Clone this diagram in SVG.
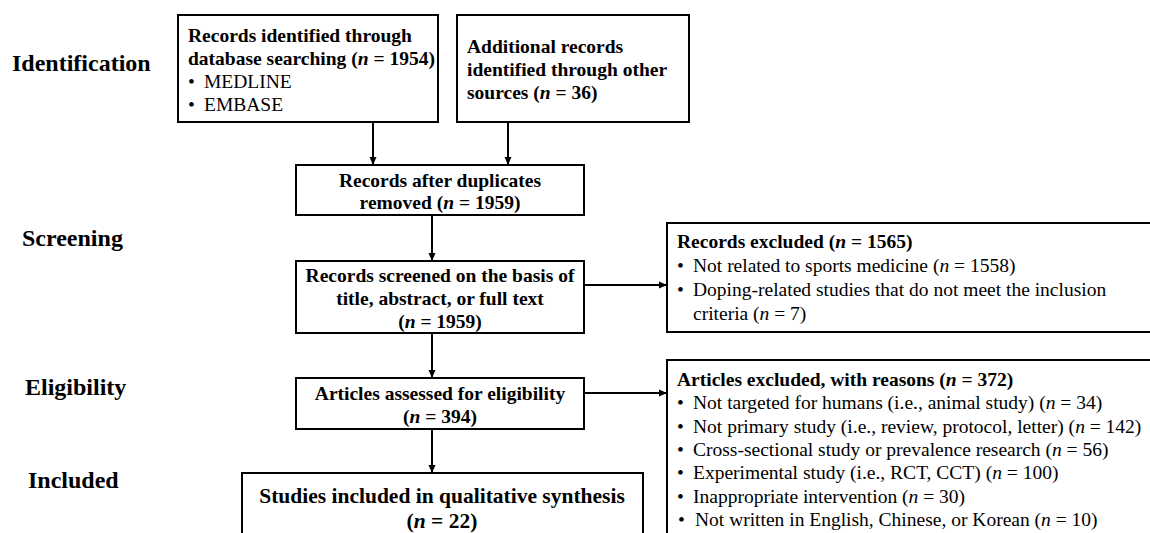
<svg xmlns="http://www.w3.org/2000/svg" width="1150" height="533" viewBox="0 0 1150 533">
  <style>
    .box { fill: #fff; stroke: #000; stroke-width: 2; }
    .t { font-family: "Liberation Serif", "Times New Roman", serif; fill: #000; font-size: 19.5px; }
    .b { font-weight: bold; }
    .stage { font-family: "Liberation Serif", "Times New Roman", serif; font-weight: bold; font-size: 24px; fill: #000; }
    .c { text-anchor: middle; }
    .edge { stroke: #000; stroke-width: 2; fill: none; }
    .i { font-style: italic; }
  </style>
  <defs>
    <marker id="ah" viewBox="0 0 8 8" refX="8" refY="4" markerWidth="8" markerHeight="8" orient="auto" markerUnits="userSpaceOnUse">
      <path d="M0,0.5 L8,4 L0,7.5 Z" fill="#000"/>
    </marker>
  </defs>

  <g id="stages">
    <text class="stage" x="12" y="71">Identification</text>
    <text class="stage" x="22" y="246">Screening</text>
    <text class="stage" x="25" y="395">Eligibility</text>
    <text class="stage" x="28" y="488">Included</text>
  </g>

  <g id="connectors">
    <path class="edge" d="M373,122 V165" marker-end="url(#ah)"/>
    <path class="edge" d="M508,122 V165" marker-end="url(#ah)"/>
    <path class="edge" d="M432,215 V261" marker-end="url(#ah)"/>
    <path class="edge" d="M584,285 H667" marker-end="url(#ah)"/>
    <path class="edge" d="M432,333 V378" marker-end="url(#ah)"/>
    <path class="edge" d="M584,393 H667" marker-end="url(#ah)"/>
    <path class="edge" d="M432,429 V473" marker-end="url(#ah)"/>
  </g>

  <g id="db-search">
    <rect class="box" x="178" y="15" width="260" height="107"/>
    <text class="t b" x="188" y="42">Records identified  through</text>
    <text class="t b" x="188" y="65">database searching (<tspan class="i">n</tspan> = 1954)</text>
    <text class="t" x="188" y="88">•</text>
    <text class="t" x="204" y="88">MEDLINE</text>
    <text class="t" x="188" y="111">•</text>
    <text class="t" x="204" y="111">EMBASE</text>
  </g>

  <g id="other-sources">
    <rect class="box" x="457" y="15" width="232" height="107"/>
    <text class="t b" x="467" y="53">Additional  records</text>
    <text class="t b" x="467" y="76">identified through other</text>
    <text class="t b" x="467" y="99">sources (<tspan class="i">n</tspan> = 36)</text>
  </g>

  <g id="duplicates">
    <rect class="box" x="296" y="165" width="288" height="50"/>
    <text class="t b c" x="440" y="187">Records after duplicates</text>
    <text class="t b c" x="440" y="209">removed (<tspan class="i">n</tspan> = 1959)</text>
  </g>

  <g id="screened">
    <rect class="box" x="296" y="261" width="288" height="72"/>
    <text class="t b c" x="440" y="282">Records screened on the basis of</text>
    <text class="t b c" x="440" y="305">title, abstract, or full text</text>
    <text class="t b c" x="440" y="328">(<tspan class="i">n</tspan> = 1959)</text>
  </g>

  <g id="records-excluded">
    <rect class="box" x="667" y="223" width="495" height="109"/>
    <text class="t b" x="677" y="248">Records excluded  (<tspan class="i">n</tspan> = 1565)</text>
    <text class="t" x="677" y="272">•</text>
    <text class="t" x="693" y="272">Not related  to sports medicine  (<tspan class="i">n</tspan> = 1558)</text>
    <text class="t" x="677" y="296">•</text>
    <text class="t" x="693" y="296">Doping-related  studies that do not meet the inclusion</text>
    <text class="t" x="693" y="320">criteria (<tspan class="i">n</tspan> = 7)</text>
  </g>

  <g id="assessed">
    <rect class="box" x="296" y="378" width="288" height="51"/>
    <text class="t b c" x="440" y="400">Articles assessed for eligibility</text>
    <text class="t b c" x="440" y="423">(<tspan class="i">n</tspan> = 394)</text>
  </g>

  <g id="articles-excluded">
    <rect class="box" x="667" y="360" width="495" height="190"/>
    <text class="t b" x="677" y="386">Articles excluded, with reasons (<tspan class="i">n</tspan> = 372)</text>
    <text class="t" x="677" y="409">•</text>
    <text class="t" x="693" y="409">Not targeted  for humans (i.e., animal study) (<tspan class="i">n</tspan> = 34)</text>
    <text class="t" x="677" y="433">•</text>
    <text class="t" x="693" y="433">Not primary study (i.e., review, protocol, letter) (<tspan class="i">n</tspan> = 142)</text>
    <text class="t" x="677" y="456">•</text>
    <text class="t" x="693" y="456">Cross-sectional study or prevalence research (<tspan class="i">n</tspan> = 56)</text>
    <text class="t" x="677" y="479">•</text>
    <text class="t" x="693" y="479">Experimental study (i.e., RCT, CCT) (<tspan class="i">n</tspan> = 100)</text>
    <text class="t" x="677" y="503">•</text>
    <text class="t" x="693" y="503">Inappropriate intervention (<tspan class="i">n</tspan> = 30)</text>
    <text class="t" x="678" y="526">•</text>
    <text class="t" x="695" y="526">Not written in English, Chinese, or Korean (<tspan class="i">n</tspan> = 10)</text>
  </g>

  <g id="included">
    <rect class="box" x="242" y="473" width="401" height="80"/>
    <text class="t b c" x="442" y="503" style="font-size:21.5px">Studies included in qualitative synthesis</text>
    <text class="t b c" x="442" y="528" style="font-size:21.5px">(<tspan class="i">n</tspan> = 22)</text>
  </g>
</svg>
